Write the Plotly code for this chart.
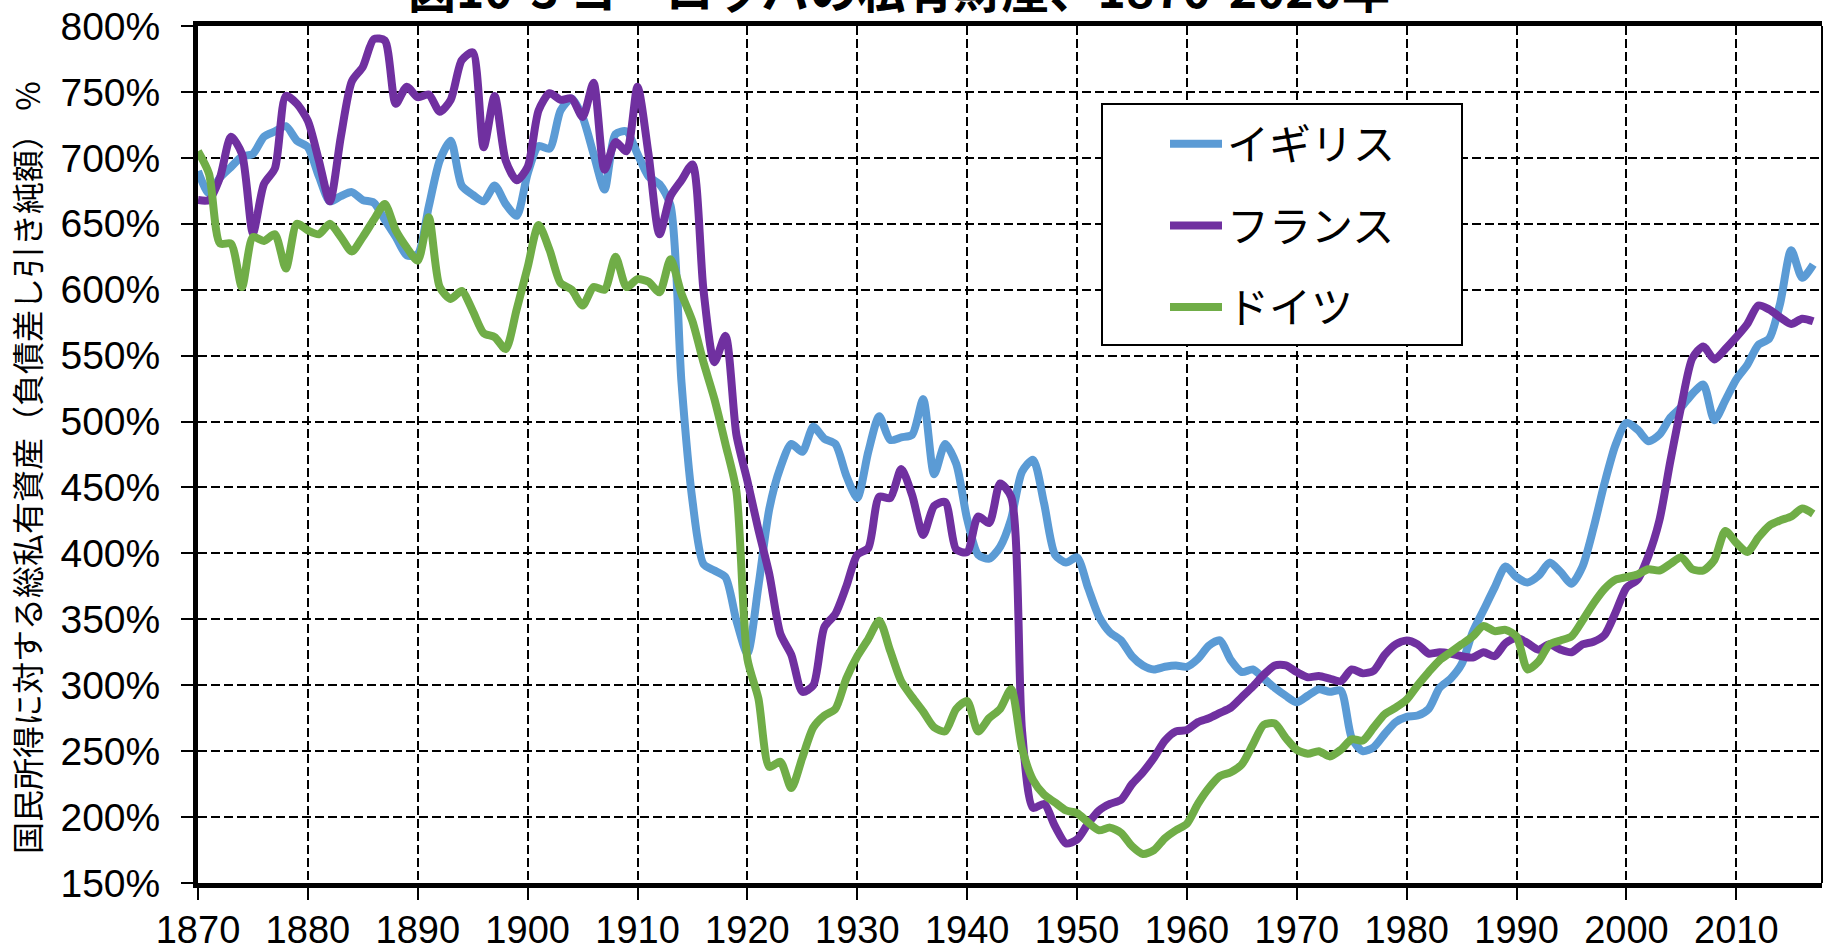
import plotly.graph_objects as go

years = list(range(1870, 2018))

uk = [690, 673, 685, 693, 701, 703, 716, 720, 724, 713,
      708, 686, 667, 671, 674, 668, 666, 653, 640, 626,
      627, 663, 698, 713, 679, 672, 667, 679, 665, 656,
      688, 709, 707, 736, 745, 731, 703, 676, 718, 720,
      703, 686, 680, 664, 530, 440, 392, 387, 382, 349,
      324, 375, 434, 465, 483, 477, 496, 487, 483, 459,
      442, 477, 504, 486, 488, 490, 517, 460, 483, 468,
      426, 399, 396, 405, 426, 462, 471, 438, 399, 393,
      397, 374, 352, 340, 334, 322, 315, 312, 314, 315,
      314, 320, 330, 334, 319, 310, 312, 305, 298, 292,
      287, 292, 297, 295, 296, 260, 250, 253, 263, 272,
      276, 277, 282, 298, 305, 316, 340, 357, 374, 390,
      382, 378, 383, 393, 386, 377, 390, 419, 453, 482,
      499, 494, 485, 490, 503, 511, 521, 528, 501, 516,
      532, 543, 558, 563, 590, 630, 609, 619]

france = [668, 668, 685, 716, 703, 643, 680, 692, 747, 741,
          728, 698, 667, 716, 758, 769, 790, 789, 741, 754,
          746, 748, 735, 744, 774, 780, 708, 747, 698, 683,
          693, 736, 749, 744, 745, 731, 757, 691, 712, 705,
          754, 703, 642, 671, 683, 695, 600, 545, 565, 490,
          455, 418, 384, 339, 323, 295, 300, 344, 354, 375,
          399, 404, 443, 442, 464, 444, 414, 436, 439, 403,
          401, 428, 423, 453, 443, 265, 207, 210, 193, 180,
          183, 195, 205, 210, 213, 225, 234, 245, 258, 265,
          266, 272, 275, 279, 283, 291, 299, 308, 315, 315,
          310, 306, 307, 305, 303, 312, 309, 311, 323, 331,
          334, 331, 324, 325, 324, 322, 321, 325, 322, 332,
          336, 332, 327, 331, 327, 325, 331, 333, 338, 355,
          374, 380, 398, 425, 470, 512, 548, 557, 547, 555,
          564, 574, 588, 585, 579, 574, 578, 576]

germany = [705, 688, 635, 635, 602, 640, 637, 642, 616, 650,
           645, 642, 650, 640, 629, 640, 653, 665, 645, 632,
           622, 655, 602, 593, 599, 584, 567, 564, 555, 585,
           617, 649, 630, 605, 600, 588, 602, 600, 625, 602,
           608, 606, 598, 623, 597, 576, 545, 517, 483, 447,
           320, 290, 238, 242, 222, 245, 268, 277, 282, 305,
           322, 335, 349, 326, 303, 291, 280, 268, 265, 282,
           288, 265, 275, 282, 297, 252, 228, 217, 211, 205,
           203, 196, 190, 192, 188, 178, 172, 175, 184, 190,
           195, 210, 222, 231, 234, 240, 255, 270, 271, 260,
           251, 248, 250, 246, 251, 259, 258, 268, 278, 283,
           289, 300, 310, 319, 325, 331, 337, 345, 341, 342,
           337, 312, 318, 331, 334, 337, 349, 362, 373, 380,
           382, 384, 388, 387, 392, 397, 388, 387, 395, 417,
           408, 401, 412, 421, 425, 428, 434, 430]

series_names = ["イギリス", "フランス", "ドイツ"]
series_colors = ["#5B9BD5", "#7030A0", "#70AD47"]
x_ticks = list(range(1870, 2011, 10))
y_ticks = list(range(150, 801, 50))
y_ticktext = [f"{v}%" for v in y_ticks]

title_text = "図10-3 ヨーロッパの私有財産、1870-2020年"
ytitle_text = "国民所得に対する総私有資産（負債差し引き純額） %"

FONT = "Liberation Sans, Arial, Noto Sans CJK JP, sans-serif"
JFONT = "Noto Sans CJK JP, Liberation Sans, sans-serif"

L, R, T, B = 198, 1822, 26, 883
PW, PH = R - L, B - T

fig = go.Figure()
for i, (name, vals) in enumerate(zip(series_names, [uk, france, germany])):
    fig.add_trace(go.Scatter(
        x=years, y=vals, name=name, mode="lines",
        line=dict(color=series_colors[i], width=8, shape="spline", smoothing=0.7),
        legendgroup=f"g{i}",
    ))

fig.update_layout(
    width=1826, height=950,
    margin=dict(l=L, r=1826 - R, t=T, b=950 - B, autoexpand=False),
    paper_bgcolor="white", plot_bgcolor="white",
    font=dict(family=FONT, size=39, color="black"),
    showlegend=True,
    legend=dict(
        x=(1165 - L) / PW, y=(B - 110) / PH, xanchor="left", yanchor="top",
        bgcolor="rgba(0,0,0,0)", borderwidth=0,
        font=dict(family=JFONT, size=42, color="black"),
        tracegroupgap=24, itemwidth=52,
    ),
    shapes=[
        dict(type="rect", xref="paper", yref="paper",
             x0=(1102 - L) / PW, x1=(1462 - L) / PW,
             y0=(B - 345) / PH, y1=(B - 104) / PH,
             line=dict(color="black", width=2), fillcolor="white", layer="above"),
        dict(type="line", xref="paper", yref="paper", x0=1, x1=1, y0=0, y1=1,
             line=dict(color="black", width=2), layer="above"),
    ],
    annotations=[
        dict(text=title_text, xref="paper", yref="paper", x=(899 - L) / PW, y=(B + 13) / PH,
             xanchor="center", yanchor="middle", showarrow=False,
             font=dict(family=JFONT, size=48, color="black", weight="bold")),
        dict(text=ytitle_text, xref="paper", yref="paper", x=(26 - L) / PW,
             y=(B - 468) / PH, xanchor="center", yanchor="middle", textangle=-90,
             showarrow=False, font=dict(family=JFONT, size=32, color="black")),
    ],
)

fig.update_xaxes(
    range=[1870, 2017.8], tickmode="array", tickvals=x_ticks,
    ticks="outside", ticklen=12, tickwidth=2, tickcolor="black",
    showline=True, linewidth=5, linecolor="black", mirror=True,
    showgrid=True, gridcolor="black", gridwidth=2, griddash="9px,4px",
    zeroline=False, tickfont=dict(size=38), ticklabelstandoff=-3, automargin=False,
)
fig.update_yaxes(
    range=[150, 800], tickmode="array", tickvals=y_ticks, ticktext=y_ticktext,
    ticks="outside", ticklen=12, tickwidth=2, tickcolor="black",
    showline=True, linewidth=5, linecolor="black",
    showgrid=True, gridcolor="black", gridwidth=2, griddash="9px,4px",
    zeroline=False, tickfont=dict(size=39), ticklabelstandoff=13, automargin=False,
)

fig.write_html("out.html", config={"displayModeBar": False},
               post_script="document.body.style.margin='0';document.body.style.overflow='hidden';")
